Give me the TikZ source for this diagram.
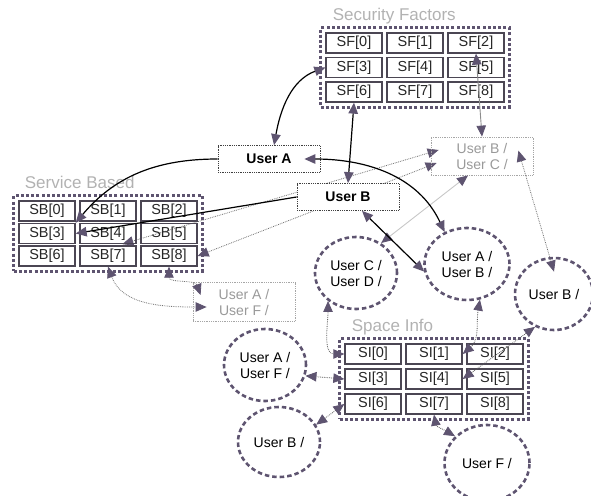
\documentclass[tikz,border=0pt]{standalone}
\usepackage{fontspec}
\setmainfont{Liberation Sans}
\usetikzlibrary{positioning, arrows.meta, fit, backgrounds, shapes.geometric, calc}
\definecolor{tipc}{HTML}{5E5470}
\definecolor{gridc}{HTML}{4B4653}

\begin{document}
\begin{tikzpicture}[
    x=1pt, y=1pt,
    >={Triangle[length=11pt, width=9.5pt, color=tipc]},
    cell/.style={draw=gridc, line width=1.3pt, minimum width=56pt,
                 minimum height=20pt, inner sep=0pt, text=black!85,
                 font=\fontsize{14.5}{16}\selectfont},
    panel/.style={draw=tipc, line width=3pt, dash pattern=on 3pt off 2.2pt,
                  inner sep=4.5pt},
    title/.style={text=black!30, anchor=base west,
                  font=\fontsize{17}{20}\selectfont},
    ubox/.style={draw=black!75, densely dotted, line width=0.8pt, fill=white,
                 minimum width=102pt, minimum height=27pt,
                 font=\fontsize{14}{16}\selectfont\bfseries},
    gbox/.style={draw=black!35, densely dotted, line width=0.8pt, text=black!40,
                 minimum width=102pt, minimum height=39pt, align=center,
                 font=\fontsize{14}{16}\selectfont},
    usr/.style={ellipse, draw=tipc, line width=2.6pt, dash pattern=on 4.5pt off 3pt,
                minimum width=82pt, minimum height=72pt, inner sep=0pt,
                align=center, font=\fontsize{14}{16}\selectfont},
    link/.style={line width=1.2pt},
    gline/.style={line width=0.8pt, densely dotted, black!55},
    lline/.style={line width=0.9pt, black!22}
]
\useasboundingbox (0,0) rectangle (591,-495);
% Grids of cells
\foreach \g/\lab/\x/\y/\dy in {sf/SF/354/43/24.5, sb/SB/47/211/22.5, si/SI/373/354/25}{
  \foreach \i in {0,...,8}{
    \pgfmathtruncatemacro\col{mod(\i,3)}
    \pgfmathtruncatemacro\row{\i/3}
    \node[cell] (\g_\i) at (\x+61*\col, -\y-\dy*\row) {\lab{}[\i]};
  }
}
\node[panel, fit=(sf_0)(sf_8)] (sf_g) {};
\node[panel, fit=(sb_0)(sb_8)] (sb_g) {};
\node[panel, fit=(si_0)(si_8)] (si_g) {};
\node[title] (sf_t) at ([xshift=10pt, yshift=6pt]sf_g.north west) {Security Factors};
\node[title] (sb_t) at ([xshift=9pt, yshift=6pt]sb_g.north west) {Service Based};
\node[title] (si_t) at ([xshift=10pt, yshift=6pt]si_g.north west) {Space Info};
% Users
\node[ubox] (usr_a) at (269,-159) {User A};
\node[ubox] (usr_b) at (348,-197) {User B};
\node[gbox, minimum height=38pt] (usr_bc) at (482,-156) {User B /\\User C /};
\node[gbox] (usr_af) at (244,-302) {User A /\\User F /};
\node[usr] (c_cd) at (356,-273) {User C /\\User D /};
\node[usr, minimum width=85pt] (c_ab) at (467,-264) {User A /\\User B /};
\node[usr, minimum width=78pt] (c_b1) at (554,-294) {User B /};
\node[usr] (c_af) at (265,-365) {User A /\\User F /};
\node[usr, minimum height=70pt] (c_b2) at (279,-442) {User B /};
\node[usr, minimum width=85pt, minimum height=76pt] (c_f) at (487,-463) {User F /};
% Security Factors links
\draw[link, <->] (usr_a.70) to[out=80, in=200] (sf_3.west);
\draw[link, <->] (sf_6.south) -- (usr_b.north);
\draw[lline, black!45, <->] (sf_2.south) -- (usr_bc.north);
% Service Based links
\draw[link, ->] (usr_a.west) to[out=180, in=50] (sb_3.north east);
\draw[link, ->] (usr_b.west) -- (sb_3.east);
\begin{scope}[on background layer]
\draw[gline, <->] ([shift={(8,6)}]usr_bc.west) --
      ($(sb_4.south)!0.5!(sb_4.south east)$);
\draw[gline, <->] ([shift={(6,-7)}]usr_bc.west) -- (sb_8.east);
\end{scope}
\draw[gline, <->] (sb_7.south) to[out=-70, in=180] ([shift={(14,-5)}]usr_af.west);
\draw[gline, <->] (sb_8.south) to[out=-90, in=110] ([shift={(8,7)}]usr_af.west);
% Between users
\draw[lline, <->] (c_cd.50) -- ([xshift=-14pt]usr_bc.south);
\draw[link, <->] ([xshift=14pt]usr_b.south) -- (c_ab.190);
\draw[link, <->] ([xshift=-16pt]usr_a.east) to[out=0, in=115] (c_ab.125);
\draw[gline, <->] ([shift={(-15,-14)}]usr_bc.north east) --
      ($(c_b1.north)!0.4!(c_b1.center)$);
% Space Info links
\draw[gline, black!65, <->] (c_cd.225) to[out=-90, in=180] (si_0.west);
\draw[gline, black!65, <->] (c_ab.290) to[out=-100, in=40] (si_1.east);
\draw[gline, black!65, <->] (si_4.east) -- (c_b1.240);
\draw[gline, black!65, <->] (si_3.west) -- (c_af.-15);
\draw[gline, black!65, <->] (si_6.west) -- (c_b2.25);
\draw[gline, black!65, <->] (si_7.south) to[out=-80, in=150] (c_f.140);
\end{tikzpicture}
\end{document}
